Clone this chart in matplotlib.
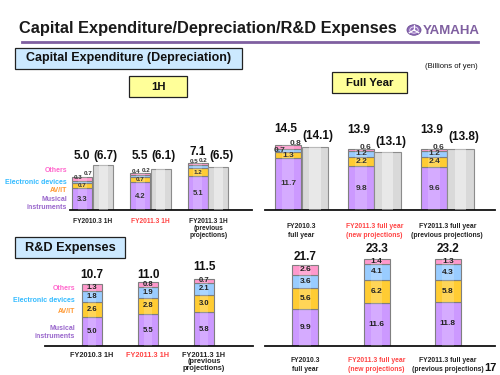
import matplotlib
matplotlib.use("Agg")
import matplotlib.pyplot as plt
from matplotlib.patches import Rectangle, Circle
import numpy as np

plt.rcParams['font.family'] = ['Liberation Sans', 'DejaVu Sans']

# ---------------- data ----------------
segments = ["Musical\ninstruments", "AV/IT", "Electronic devices", "Others"]
seg_colors = ["#cc99ff", "#ffcc33", "#99ccff", "#ff99cc"]
seg_text_colors = ["#9966cc", "#ff9933", "#33bbff", "#ff66cc"]

capex_1h_cats = ["FY2010.3 1H", "FY2011.3 1H", "FY2011.3 1H\n(previous\nprojections)"]
capex_1h_musical = [3.3, 4.2, 5.1]
capex_1h_avit = [0.7, 0.7, 1.2]
capex_1h_elec = [0.3, 0.4, 0.5]
capex_1h_others = [0.7, 0.2, 0.2]
capex_1h_total = [5.0, 5.5, 7.1]
depr_1h = [6.7, 6.1, 6.5]

capex_fy_cats = ["FY2010.3\nfull year", "FY2011.3 full year\n(new projections)",
                 "FY2011.3 full year\n(previous projections)"]
capex_fy_musical = [11.7, 9.8, 9.6]
capex_fy_avit = [1.3, 2.2, 2.4]
capex_fy_elec = [0.7, 1.2, 1.2]
capex_fy_others = [0.8, 0.6, 0.6]
capex_fy_total = [14.5, 13.9, 13.9]
depr_fy = [14.1, 13.1, 13.8]

rd_1h_cats = ["FY2010.3 1H", "FY2011.3 1H", "FY2011.3 1H\n(previous\nprojections)"]
rd_1h_musical = [5.0, 5.5, 5.8]
rd_1h_avit = [2.6, 2.8, 3.0]
rd_1h_elec = [1.8, 1.9, 2.1]
rd_1h_others = [1.3, 0.8, 0.7]
rd_1h_total = [10.7, 11.0, 11.5]

rd_fy_cats = ["FY2010.3\nfull year", "FY2011.3 full year\n(new projections)",
              "FY2011.3 full year\n(previous projections)"]
rd_fy_musical = [9.9, 11.6, 11.8]
rd_fy_avit = [5.6, 6.2, 5.8]
rd_fy_elec = [3.6, 4.1, 4.3]
rd_fy_others = [2.6, 1.4, 1.3]
rd_fy_total = [21.7, 23.3, 23.2]

cat_colors = ["#222222", "#ff4444", "#222222"]

W, H = 500, 375
fig = plt.figure(figsize=(5, 3.75), dpi=100)
fig.patch.set_facecolor("white")


def fx(px):
    return px / W


def fy(py):
    return 1 - py / H


def add_ax(x0, x1, top, base):
    ax = fig.add_axes([fx(x0), fy(base), (x1 - x0) / W, (base - top) / H])
    ax.set_facecolor("none")
    for s in ["top", "right", "left"]:
        ax.spines[s].set_visible(False)
    ax.spines["bottom"].set_linewidth(1.3)
    ax.spines["bottom"].set_color("#111111")
    ax.set_yticks([])
    ax.tick_params(axis="x", length=0)
    return ax


def stacked(ax, xs, width, layers):
    xs = np.asarray(xs, dtype=float)
    bottom = np.zeros(len(xs))
    for vals, col in zip(layers, seg_colors):
        vals = np.asarray(vals, dtype=float)
        ax.bar(xs, vals, width, bottom=bottom, color=col, edgecolor="#7f7f7f",
               linewidth=0.8, zorder=2)
        ax.bar(xs, vals, width * 0.45, bottom=bottom, color="white", alpha=0.18,
               linewidth=0, zorder=3)
        bottom = bottom + vals
    return bottom


def label_segments(ax, xs, layers, fs=5.5):
    bottom = np.zeros(len(xs))
    for vals in layers:
        for i, v in enumerate(vals):
            ax.text(xs[i], bottom[i] + v / 2, f"{v:.1f}", ha="center", va="center",
                    fontsize=fs, fontweight="bold", color="#222222", zorder=5)
        bottom = bottom + np.asarray(vals)


def px_y(base, sc, ypx):
    """convert a figure-pixel y into data units of an axes with given baseline/scale"""
    return (base - ypx) / sc


# ---------------- header ----------------
fig.text(fx(19), fy(28.5), "Capital Expenditure/Depreciation/R&D Expenses",
         fontsize=11.8, fontweight="bold", color="#1a1a1a", va="center", ha="left")
fig.add_artist(plt.Line2D([fx(22), fx(478)], [fy(42), fy(42)], color="#7f5fa0", lw=2))
fig.add_artist(Circle((fx(414), fy(30)), 7 / W, transform=fig.transFigure,
                      facecolor="#8e6bb8", edgecolor="#6a4b91", lw=0.6))
fig.add_artist(Circle((fx(414), fy(30)), 4.2 / W, transform=fig.transFigure,
                      facecolor="none", edgecolor="#e8dcf5", lw=0.7))
for ang in range(0, 360, 120):
    a = np.deg2rad(ang + 90)
    fig.add_artist(plt.Line2D([fx(414), fx(414 + 5.5 * np.cos(a))],
                              [fy(30), fy(30 - 5.5 * np.sin(a))], color="white", lw=0.9))
fig.text(fx(423), fy(30.5), "YAMAHA", fontsize=9.5, fontweight="bold", color="#7f5fa0",
         va="center", ha="left")


def box(x0, y0, x1, y1, text, fc, fs=8.2):
    fig.add_artist(Rectangle((fx(x0), fy(y1)), (x1 - x0) / W, (y1 - y0) / H,
                             transform=fig.transFigure, facecolor=fc,
                             edgecolor="#222222", lw=0.9))
    fig.text(fx((x0 + x1) / 2), fy((y0 + y1) / 2), text, ha="center", va="center",
             fontsize=fs, fontweight="bold", color="#111111")


box(15, 48, 242, 69, "Capital Expenditure (Depreciation)", "#cce9ff", fs=9)
box(129, 76, 187, 97, "1H", "#ffff99")
box(332, 72, 407, 93, "Full Year", "#ffff99")
box(15, 237, 125, 258, "R&D Expenses", "#cce9ff", fs=9.2)
fig.text(fx(478), fy(66.5), "(Billions of yen)", ha="right", va="center", fontsize=5.5,
         color="#111111")
fig.text(fx(497), fy(368), "17", ha="right", va="center", fontsize=8,
         fontweight="bold", color="#111111")

x = np.arange(3)

# ---------------- Capex 1H ----------------
b1, sc1 = 210, 6.65
ax1 = add_ax(70, 252, 140, b1)
ax1.set_xlim((70 - 92.7) / 57.7, (252 - 92.7) / 57.7)
ax1.set_ylim(0, 70 / sc1)
off, wd = 0.179, 0.347
layers = [capex_1h_musical, capex_1h_avit, capex_1h_elec, capex_1h_others]
stacked(ax1, x - off, wd, layers)
ax1.bar(x + off, depr_1h, wd, color="#d9d9d9", edgecolor="#8c8c8c", lw=0.8, zorder=2)
ax1.bar(x + off, depr_1h, wd * 0.45, color="white", alpha=0.4, lw=0, zorder=3)
tot1_y = [156, 156, 152]
for i in range(3):
    ax1.text(x[i] - off, capex_1h_musical[i] / 2, f"{capex_1h_musical[i]:.1f}",
             ha="center", va="center", fontsize=5.5, fontweight="bold", color="#333")
    ax1.text(x[i] - off, capex_1h_musical[i] + capex_1h_avit[i] / 2,
             f"{capex_1h_avit[i]:.1f}", ha="center", va="center", fontsize=4.5,
             fontweight="bold", color="#333")
    top3 = capex_1h_musical[i] + capex_1h_avit[i] + capex_1h_elec[i]
    ax1.text(x[i] - off - 0.07, top3 + 0.15, f"{capex_1h_elec[i]:.1f}",
             ha="center", va="bottom", fontsize=4.5, fontweight="bold", color="#333")
    ax1.text(x[i] - off + 0.1, top3 + capex_1h_others[i] + 0.1, f"{capex_1h_others[i]:.1f}",
             ha="center", va="bottom", fontsize=4.5, fontweight="bold", color="#333")
    ax1.text(x[i] - off, px_y(b1, sc1, tot1_y[i]), f"{capex_1h_total[i]:.1f}",
             ha="center", va="center", fontsize=8.5, fontweight="bold", color="#111")
    ax1.text(x[i] + off + 0.05, px_y(b1, sc1, 156), f"({depr_1h[i]:.1f})",
             ha="center", va="center", fontsize=8.5, fontweight="bold", color="#111")
ax1.set_xticks(x, capex_1h_cats, fontsize=4.8, fontweight="bold", linespacing=1.0,
               va="top")
ax1.tick_params(axis="x", pad=6)
for t, c in zip(ax1.get_xticklabels(), cat_colors):
    t.set_color(c)

lg1_x = 67
fig.text(fx(lg1_x), fy(171), "Others", ha="right", va="center", fontsize=5,
         fontweight="bold", color=seg_text_colors[3])
fig.text(fx(lg1_x), fy(182), "Electronic devices", ha="right", va="center", fontsize=5,
         fontweight="bold", color=seg_text_colors[2])
fig.text(fx(lg1_x), fy(191), "AV/IT", ha="right", va="center", fontsize=5,
         fontweight="bold", color=seg_text_colors[1])
fig.text(fx(lg1_x), fy(203.5), "Musical\ninstruments", ha="right", va="center", fontsize=5,
         fontweight="bold", color=seg_text_colors[0], linespacing=1.05)

# ---------------- Capex Full year ----------------
b2, sc2 = 210, 4.45
ax2 = add_ax(265, 495, 110, b2)
ax2.set_xlim((265 - 301.5) / 72.9, (495 - 301.5) / 72.9)
ax2.set_ylim(0, 100 / sc2)
off2, wd2 = 0.181, 0.36
layers = [capex_fy_musical, capex_fy_avit, capex_fy_elec, capex_fy_others]
stacked(ax2, x - off2, wd2, layers)
ax2.bar(x + off2, depr_fy, wd2, color="#d9d9d9", edgecolor="#8c8c8c", lw=0.8, zorder=2)
ax2.bar(x + off2, depr_fy, wd2 * 0.45, color="white", alpha=0.4, lw=0, zorder=3)
tot2_y = [128.5, 129.5, 129.5]
dep2_y = [135.5, 141.5, 136.5]
for i in range(3):
    ax2.text(x[i] - off2, capex_fy_musical[i] / 2, f"{capex_fy_musical[i]:.1f}",
             ha="center", va="center", fontsize=6, fontweight="bold", color="#333")
    ax2.text(x[i] - off2, capex_fy_musical[i] + capex_fy_avit[i] / 2,
             f"{capex_fy_avit[i]:.1f}", ha="center", va="center", fontsize=6,
             fontweight="bold", color="#333")
    b3 = capex_fy_musical[i] + capex_fy_avit[i]
    ax2.text(x[i] - off2 - (0.12 if i == 0 else 0), b3 + capex_fy_elec[i] / 2,
             f"{capex_fy_elec[i]:.1f}", ha="center", va="center", fontsize=6,
             fontweight="bold", color="#333")
    top3 = b3 + capex_fy_elec[i]
    ax2.text(x[i] - off2 + (0.1 if i == 0 else 0.06), top3 + (0.35 if i == 0 else 0.1),
             f"{capex_fy_others[i]:.1f}",
             ha="center", va="bottom", fontsize=6, fontweight="bold", color="#333")
    ax2.text(x[i] - off2 - 0.04, px_y(b2, sc2, tot2_y[i]), f"{capex_fy_total[i]:.1f}",
             ha="center", va="center", fontsize=8.5, fontweight="bold", color="#111")
    ax2.text(x[i] + off2 + 0.04, px_y(b2, sc2, dep2_y[i]), f"({depr_fy[i]:.1f})",
             ha="center", va="center", fontsize=8.5, fontweight="bold", color="#111")
ax2.set_xticks(x, capex_fy_cats, fontsize=4.9, fontweight="bold", linespacing=1.4,
               va="top")
ax2.tick_params(axis="x", pad=9)
for t, c in zip(ax2.get_xticklabels(), cat_colors):
    t.set_color(c)

# ---------------- R&D 1H ----------------
b3_, sc3 = 346, 5.8
ax3 = add_ax(45, 253, 262, b3_)
ax3.set_xlim((45 - 92) / 56, (253 - 92) / 56)
ax3.set_ylim(0, 84 / sc3)
wd3 = 0.35
layers = [rd_1h_musical, rd_1h_avit, rd_1h_elec, rd_1h_others]
stacked(ax3, x, wd3, layers)
label_segments(ax3, x, layers, fs=5.5)
tot3_y = [275, 275, 267]
for i in range(3):
    ax3.text(x[i], px_y(b3_, sc3, tot3_y[i]), f"{rd_1h_total[i]:.1f}", ha="center",
             va="center", fontsize=8.5, fontweight="bold", color="#111")
ax3.set_xticks(x, rd_1h_cats, fontsize=5.3, fontweight="bold", linespacing=0.95,
               va="top")
ax3.tick_params(axis="x", pad=4)
for t, c in zip(ax3.get_xticklabels(), cat_colors):
    t.set_color(c)

lg3_x = 75
fig.text(fx(lg3_x), fy(288.5), "Others", ha="right", va="center", fontsize=5,
         fontweight="bold", color=seg_text_colors[3])
fig.text(fx(lg3_x), fy(300.5), "Electronic devices", ha="right", va="center", fontsize=5,
         fontweight="bold", color=seg_text_colors[2])
fig.text(fx(lg3_x), fy(311.5), "AV/IT", ha="right", va="center", fontsize=5,
         fontweight="bold", color=seg_text_colors[1])
fig.text(fx(lg3_x), fy(332), "Musical\ninstruments", ha="right", va="center", fontsize=5,
         fontweight="bold", color=seg_text_colors[0], linespacing=1.2)

# ---------------- R&D Full year ----------------
b4, sc4 = 346, 3.73
ax4 = add_ax(265, 495, 240, b4)
ax4.set_xlim((265 - 305.3) / 71.3, (495 - 305.3) / 71.3)
ax4.set_ylim(0, 106 / sc4)
wd4 = 0.365
layers = [rd_fy_musical, rd_fy_avit, rd_fy_elec, rd_fy_others]
stacked(ax4, x, wd4, layers)
label_segments(ax4, x, layers, fs=6)
tot4_y = [257, 249, 249]
for i in range(3):
    ax4.text(x[i], px_y(b4, sc4, tot4_y[i]), f"{rd_fy_total[i]:.1f}", ha="center",
             va="center", fontsize=8.5, fontweight="bold", color="#111")
ax4.set_xticks(x, rd_fy_cats, fontsize=4.9, fontweight="bold", linespacing=1.4,
               va="top")
ax4.tick_params(axis="x", pad=8)
for t, c in zip(ax4.get_xticklabels(), cat_colors):
    t.set_color(c)

fig.savefig("out.png", dpi=100, facecolor="white")
